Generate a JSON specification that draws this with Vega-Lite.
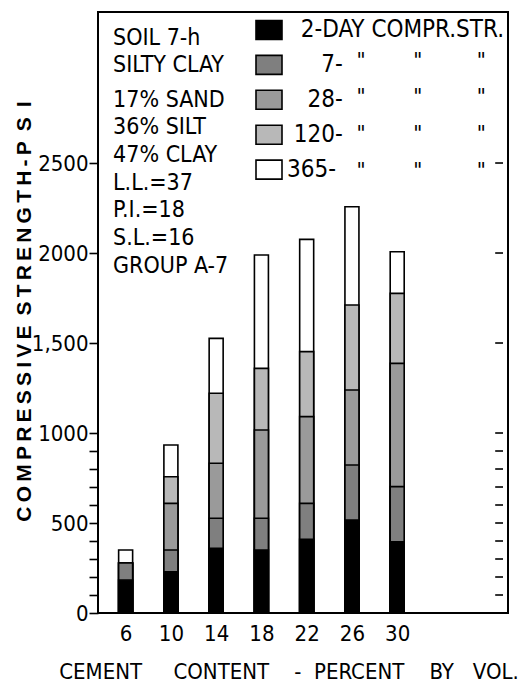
{
  "$schema": "https://vega.github.io/schema/vega-lite/v6.json",
  "width": 410,
  "height": 601,
  "autosize": {"type": "none"},
  "padding": {"left": 98, "top": 12, "right": 17, "bottom": 73},
  "background": "#ffffff",
  "config": {
    "view": {"stroke": "#000000", "strokeWidth": 2},
    "font": "DejaVu Sans Condensed, Liberation Sans Narrow, DejaVu Sans",
    "axis": {"grid": false, "domain": false, "labelColor": "#000", "titleColor": "#000", "tickColor": "#000"}
  },
  "data": {
    "values": [
      {"cement": 6, "age": "365", "strength": 350},
      {"cement": 6, "age": "120", "strength": 278},
      {"cement": 6, "age": "28", "strength": 278},
      {"cement": 6, "age": "7", "strength": 278},
      {"cement": 6, "age": "2", "strength": 183},
      {"cement": 10, "age": "365", "strength": 933},
      {"cement": 10, "age": "120", "strength": 757},
      {"cement": 10, "age": "28", "strength": 609},
      {"cement": 10, "age": "7", "strength": 350},
      {"cement": 10, "age": "2", "strength": 229},
      {"cement": 14, "age": "365", "strength": 1526},
      {"cement": 14, "age": "120", "strength": 1221},
      {"cement": 14, "age": "28", "strength": 832},
      {"cement": 14, "age": "7", "strength": 526},
      {"cement": 14, "age": "2", "strength": 359},
      {"cement": 18, "age": "365", "strength": 1989},
      {"cement": 18, "age": "120", "strength": 1359},
      {"cement": 18, "age": "28", "strength": 1017},
      {"cement": 18, "age": "7", "strength": 526},
      {"cement": 18, "age": "2", "strength": 350},
      {"cement": 22, "age": "365", "strength": 2076},
      {"cement": 22, "age": "120", "strength": 1452},
      {"cement": 22, "age": "28", "strength": 1091},
      {"cement": 22, "age": "7", "strength": 609},
      {"cement": 22, "age": "2", "strength": 409},
      {"cement": 26, "age": "365", "strength": 2257},
      {"cement": 26, "age": "120", "strength": 1711},
      {"cement": 26, "age": "28", "strength": 1239},
      {"cement": 26, "age": "7", "strength": 822},
      {"cement": 26, "age": "2", "strength": 517},
      {"cement": 30, "age": "365", "strength": 2007},
      {"cement": 30, "age": "120", "strength": 1776},
      {"cement": 30, "age": "28", "strength": 1387},
      {"cement": 30, "age": "7", "strength": 702},
      {"cement": 30, "age": "2", "strength": 396}
    ]
  },
  "layer": [
    {
      "mark": {"type": "bar", "size": 14, "stroke": "#000000", "strokeWidth": 1.6},
      "encoding": {
        "x": {
          "field": "cement", "type": "quantitative",
          "scale": {"domain": [4, 39.35], "nice": false, "zero": false},
          "axis": {
            "orient": "bottom",
            "values": [6, 10, 14, 18, 22, 26, 30],
            "ticks": false,
            "labelPadding": 10,
            "labelFontSize": 22,
            "labelFont": "DejaVu Sans Condensed, Liberation Sans Narrow, DejaVu Sans",
            "title": "CEMENT\u00a0\u00a0\u00a0\u00a0\u00a0CONTENT\u00a0\u00a0\u00a0\u00a0-\u00a0\u00a0PERCENT\u00a0\u00a0\u00a0\u00a0BY\u00a0\u00a0\u00a0VOL.",
            "titleFont": "DejaVu Sans Condensed, Liberation Sans Narrow, DejaVu Sans",
            "titleFontSize": 22,
            "titleFontWeight": "normal",
            "titleX": 190.5,
            "titleY": 65,
            "titleAlign": "center",
            "titleAnchor": null,
            "titleBaseline": "alphabetic"
          }
        },
        "y": {
          "field": "strength", "type": "quantitative", "stack": null,
          "scale": {"domain": [0, 3339], "nice": false, "zero": true},
          "axis": {
            "orient": "left",
            "values": [0, 100, 200, 300, 400, 500, 600, 700, 800, 900, 1000, 1500, 2000, 2500],
            "format": "d",
            "labelExpr": "datum.value == 1500 ? '1,500' : (datum.value % 500 == 0 ? datum.label : '')",
            "tickSize": 9,
            "tickWidth": 1.6,
            "labelPadding": 1,
            "labelFontSize": 22,
            "labelFont": "DejaVu Sans Condensed, Liberation Sans Narrow, DejaVu Sans",
            "title": "C\u2009O\u2009M\u2009P\u2009R\u2009E\u2009S\u2009S\u2009I\u2009V\u2009E\u00a0\u2009S\u2009T\u2009R\u2009E\u2009N\u2009G\u2009T\u2009H\u2009-\u2009P\u00a0\u2009S\u00a0\u2009I",
            "titleFont": "Liberation Sans",
            "titleFontSize": 21,
            "titleFontWeight": "bold",
            "titleAngle": 270,
            "titleX": -74,
            "titleY": 299,
            "titleAlign": "center",
            "titleAnchor": null,
            "titleBaseline": "middle"
          }
        },
        "fill": {
          "field": "age", "type": "nominal",
          "scale": {"domain": ["2", "7", "28", "120", "365"], "range": ["#000000", "#7f7f7f", "#9a9a9a", "#b8b8b8", "#ffffff"]},
          "legend": {
            "orient": "none",
            "legendX": 157,
            "legendY": 4,
            "title": null,
            "padding": 0,
            "symbolType": "M-1,-0.73H1V0.73H-1Z",
            "symbolSize": 676,
            "symbolStrokeColor": "#000000",
            "symbolStrokeWidth": 1.6,
            "symbolOpacity": 1,
            "labelFontSize": 24,
            "labelFont": "DejaVu Sans Condensed, Liberation Sans Narrow, DejaVu Sans",
            "labelColor": "#000000",
            "labelOffset": 4,
            "labelLimit": 300,
            "rowPadding": 7.9,
            "labelExpr": "datum.label == '2' ? '\u200b\u00a0\u00a02-DAY COMPR.STR.' : datum.label == '7' ? '\u200b\u00a0\u00a0\u00a0\u00a0\u00a07-' : datum.label == '28' ? '\u200b\u00a0\u00a0\u00a028-' : datum.label == '120' ? '\u200b\u00a0120-' : '365-'"
          }
        }
      }
    },
    {
      "data": {"values": [
        {"tick": 0}, {"tick": 100}, {"tick": 200}, {"tick": 300}, {"tick": 400},
        {"tick": 500}, {"tick": 600}, {"tick": 700}, {"tick": 800}, {"tick": 900},
        {"tick": 1000}, {"tick": 1500}, {"tick": 2000}, {"tick": 2500}
      ]},
      "mark": {"type": "rule", "color": "#000000", "strokeWidth": 1.6},
      "encoding": {
        "x": {"datum": 38.66, "type": "quantitative"},
        "x2": {"datum": 39.35},
        "y": {"field": "tick", "type": "quantitative", "axis": null}
      }
    },
    {
      "data": {"values": [{}]},
      "mark": {"type": "text", "align": "left", "baseline": "alphabetic", "fontSize": 23, "lineHeight": 26.7, "fill": "#000", "font": "DejaVu Sans Condensed, Liberation Sans Narrow, DejaVu Sans", "text": ["SOIL 7-h", "SILTY CLAY"]},
      "encoding": {
        "x": {"datum": 4.89, "type": "quantitative"},
        "y": {"datum": 3156, "type": "quantitative", "axis": null}
      }
    },
    {
      "data": {"values": [{}]},
      "mark": {"type": "text", "align": "left", "baseline": "alphabetic", "fontSize": 23, "lineHeight": 27.7, "fill": "#000", "font": "DejaVu Sans Condensed, Liberation Sans Narrow, DejaVu Sans", "text": ["17% SAND", "36% SILT", "47% CLAY", "L.L.=37", "P.I.=18", "S.L.=16", "GROUP A-7"]},
      "encoding": {
        "x": {"datum": 4.89, "type": "quantitative"},
        "y": {"datum": 2813, "type": "quantitative", "axis": null}
      }
    },
    {
      "data": {"values": [{}]},
      "mark": {"type": "text", "align": "center", "baseline": "alphabetic", "fontSize": 22, "lineHeight": 36.7, "fill": "#000", "font": "DejaVu Sans Condensed, DejaVu Sans", "text": ["\"", "\"", "\"", "\""]},
      "encoding": {
        "x": {"datum": 26.81, "type": "quantitative"},
        "y": {"datum": 3029, "type": "quantitative", "axis": null}
      }
    },
    {
      "data": {"values": [{}]},
      "mark": {"type": "text", "align": "center", "baseline": "alphabetic", "fontSize": 22, "lineHeight": 36.7, "fill": "#000", "font": "DejaVu Sans Condensed, DejaVu Sans", "text": ["\"", "\"", "\"", "\""]},
      "encoding": {
        "x": {"datum": 31.83, "type": "quantitative"},
        "y": {"datum": 3029, "type": "quantitative", "axis": null}
      }
    },
    {
      "data": {"values": [{}]},
      "mark": {"type": "text", "align": "center", "baseline": "alphabetic", "fontSize": 22, "lineHeight": 36.7, "fill": "#000", "font": "DejaVu Sans Condensed, DejaVu Sans", "text": ["\"", "\"", "\"", "\""]},
      "encoding": {
        "x": {"datum": 37.44, "type": "quantitative"},
        "y": {"datum": 3029, "type": "quantitative", "axis": null}
      }
    }
  ],
  "resolve": {"axis": {"y": "independent"}}
}
